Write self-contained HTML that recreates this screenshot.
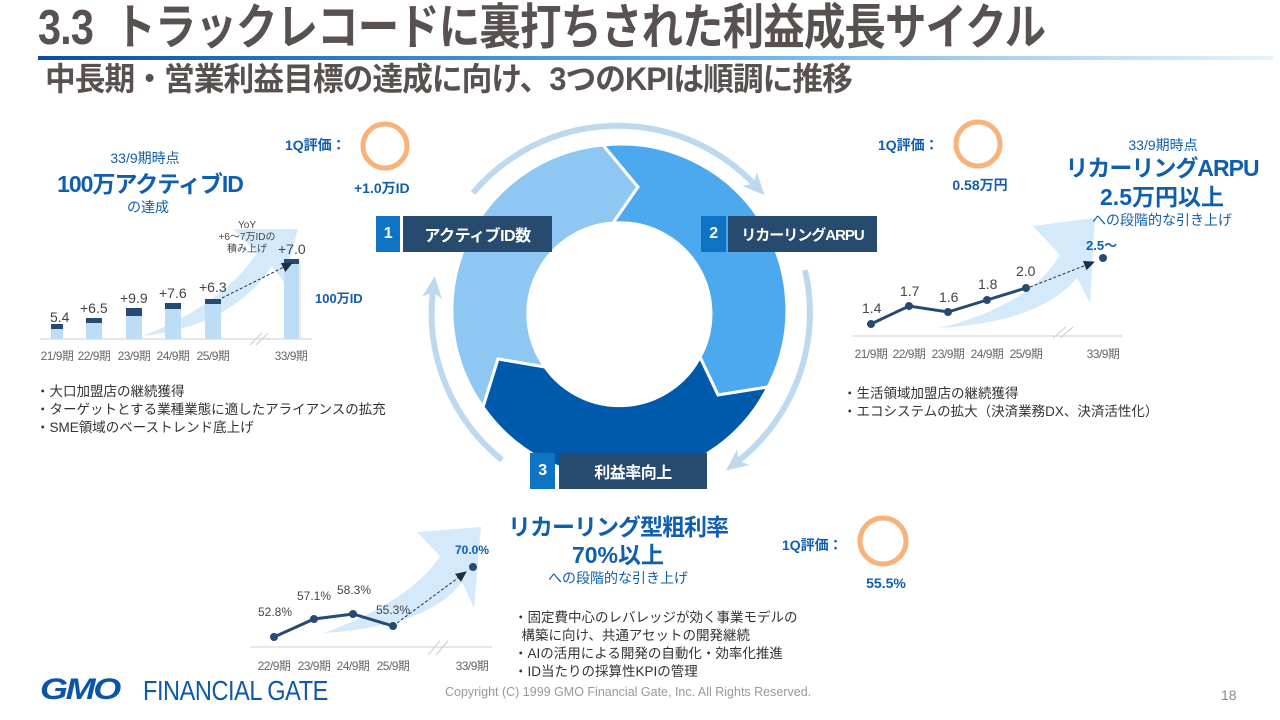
<!DOCTYPE html>
<html><head><meta charset="utf-8">
<style>
*{margin:0;padding:0;box-sizing:border-box}
body{width:1280px;height:720px;background:#fff;position:relative;overflow:hidden;font-family:"Liberation Sans","Noto Sans CJK JP",sans-serif;}
.a{position:absolute;white-space:nowrap;line-height:1}
.c{transform:translateX(-50%)}
.blue{color:#0F5EAF}
.b{font-weight:bold}
.yr{font-size:12px;color:#666;letter-spacing:-0.5px}
.num{font-size:14px;color:#444}
.bul{font-size:13.5px;color:#333;line-height:18px}
.box{position:absolute;height:36px;color:#fff;font-weight:bold;font-size:16px;display:flex;align-items:center;justify-content:center;white-space:nowrap;letter-spacing:-0.5px}
</style></head><body>

<svg width="1280" height="720" style="position:absolute;left:0;top:0">
<defs>
<linearGradient id="g" x1="0" x2="1"><stop offset="0" stop-color="#0A4EA0"/><stop offset="0.5" stop-color="#5AA8E8"/><stop offset="1" stop-color="#E6F2FC"/></linearGradient>
<marker id="m" markerUnits="userSpaceOnUse" markerWidth="24" markerHeight="24" refX="8" refY="12" orient="auto"><path d="M0,2 L22,12 L0,22 L6,12 Z" fill="#BDD9F0"/></marker>
<marker id="d" markerUnits="userSpaceOnUse" markerWidth="12" markerHeight="12" refX="10" refY="6" orient="auto"><path d="M0,1 L11,6 L0,11 Z" fill="#1E2E44"/></marker>
</defs>
<rect x="38" y="56" width="1235" height="4" fill="url(#g)"/>

<g fill="none" stroke="#BDD9F0" stroke-width="6">
<path d="M473,193 A189 189 0 0 1 755,185" marker-end="url(#m)"/>
<path d="M805,270 A189 189 0 0 1 737,462" marker-end="url(#m)"/>
<path d="M502,460 A189 189 0 0 1 433,290" marker-end="url(#m)"/>
</g>
<g stroke="#fff" stroke-width="3" stroke-linejoin="miter">
<path d="M483,407 A166 166 0 0 1 603,145 L638,187 L613,223 A91 91 0 0 0 545,367 L498,359 Z" fill="#8FC7F3"/>
<path d="M603,145 A166 166 0 0 1 768,387 L718,395 L700,357 A91 91 0 0 0 613,223 L638,187 Z" fill="#4DA9EE"/>
<path d="M768,387 A166 166 0 0 1 483,407 L498,359 L545,367 A91 91 0 0 0 700,357 L718,395 Z" fill="#005AAB"/>
</g>

<g fill="none" stroke="#F8B27A" stroke-width="5">
<circle cx="385" cy="146" r="22"/>
<circle cx="978" cy="144" r="22"/>
<circle cx="883" cy="541" r="23"/>
</g>

<g fill="#D4E9F9">
<path d="M143,336 Q222,305 257,253 L233,229 L298,229 L284,282 L272,266 Q232,326 143,336 Z"/>
<path d="M940,328 Q1030,305 1060,255 L1033,226 L1095,218 L1090,303 L1077,278 Q1040,322 940,328 Z"/>
<path d="M324,633 Q412,600 440,556 L417,532 L481,527 L474,608 L462,582 Q430,626 324,633 Z"/>
</g>

<line x1="40" y1="339" x2="312" y2="339" stroke="#ddd" stroke-width="1.5"/>
<line x1="300" y1="260" x2="300" y2="339" stroke="#ddd" stroke-width="1"/>
<line x1="250" y1="345" x2="262" y2="333" stroke="#ccc"/><line x1="256" y1="345" x2="268" y2="333" stroke="#ccc"/>
<g fill="#BDDDF7">
<rect x="51" y="324" width="12" height="15"/><rect x="86" y="318" width="16" height="21"/><rect x="126" y="308" width="16" height="31"/><rect x="165" y="303" width="16" height="36"/><rect x="205" y="299" width="16" height="40"/><rect x="284" y="259" width="15" height="80"/>
</g>
<g fill="#264B73">
<rect x="51" y="324" width="12" height="5"/><rect x="86" y="318" width="16" height="5"/><rect x="126" y="308" width="16" height="8"/><rect x="165" y="303" width="16" height="6"/><rect x="205" y="299" width="16" height="5"/><rect x="284" y="259" width="15" height="5"/>
</g>
<line x1="222" y1="298" x2="292" y2="263" stroke="#1E2E44" stroke-dasharray="3,2" marker-end="url(#d)"/>

<line x1="852" y1="336" x2="1122" y2="336" stroke="#e0e0e0" stroke-width="1.5"/>
<line x1="1053" y1="338" x2="1066" y2="327" stroke="#ccc"/><line x1="1060" y1="338" x2="1073" y2="327" stroke="#ccc"/>
<polyline points="871,324 909,306 948,312 987,300 1026,288" fill="none" stroke="#264B73" stroke-width="3"/>
<g fill="#264B73"><circle cx="871" cy="324" r="4"/><circle cx="909" cy="306" r="4"/><circle cx="948" cy="312" r="4"/><circle cx="987" cy="300" r="4"/><circle cx="1026" cy="288" r="4"/><circle cx="1103" cy="258" r="4"/></g>
<line x1="1030" y1="287" x2="1094" y2="262" stroke="#1E2E44" stroke-dasharray="3,2" marker-end="url(#d)"/>

<line x1="250" y1="647" x2="492" y2="647" stroke="#e0e0e0" stroke-width="1.5"/>
<line x1="428" y1="655" x2="440" y2="641" stroke="#ccc"/><line x1="436" y1="655" x2="448" y2="641" stroke="#ccc"/>
<polyline points="274,637 314,619 353,614 393,626" fill="none" stroke="#264B73" stroke-width="3"/>
<g fill="#264B73"><circle cx="274" cy="637" r="4"/><circle cx="314" cy="619" r="4"/><circle cx="353" cy="614" r="4"/><circle cx="393" cy="626" r="4"/><circle cx="473" cy="567" r="4"/></g>
<line x1="397" y1="623" x2="466" y2="572" stroke="#1E2E44" stroke-dasharray="3,2" marker-end="url(#d)"/>
</svg>

<div class="a b" style="left:38px;top:4px;font-size:49px;color:#595050;transform:scaleX(0.845);transform-origin:left top;letter-spacing:-1px">3.3&nbsp; トラックレコードに裏打ちされた利益成長サイクル</div>
<div class="a b" style="left:45px;top:63px;font-size:32px;color:#595050;transform:scaleX(0.96);transform-origin:left top;letter-spacing:-1px">中長期・営業利益目標の達成に向け、3つのKPIは順調に推移</div>

<div class="a c blue" style="left:145px;top:151px;font-size:14px">33/9期時点</div>
<div class="a c blue b" style="left:150px;top:173px;font-size:23px;letter-spacing:-1px">100万アクティブID</div>
<div class="a c blue" style="left:148px;top:200px;font-size:14px">の達成</div>
<div class="a blue b" style="left:285px;top:138px;font-size:14px">1Q評価：</div>
<div class="a blue b" style="left:354px;top:181px;font-size:14px">+1.0万ID</div>
<div class="a c" style="left:247px;top:220px;font-size:10px;color:#444;text-align:center;line-height:12px">YoY<br>+6～7万IDの<br>積み上げ</div>
<div class="a num" style="left:50px;top:310px">5.4</div>
<div class="a num" style="left:80px;top:301px">+6.5</div>
<div class="a num" style="left:120px;top:291px">+9.9</div>
<div class="a num" style="left:159px;top:286px">+7.6</div>
<div class="a num" style="left:199px;top:280px">+6.3</div>
<div class="a num" style="left:278px;top:242px">+7.0</div>
<div class="a blue b" style="left:315px;top:292px;font-size:13px">100万ID</div>
<div class="a c yr" style="left:57px;top:350px">21/9期</div>
<div class="a c yr" style="left:94px;top:350px">22/9期</div>
<div class="a c yr" style="left:134px;top:350px">23/9期</div>
<div class="a c yr" style="left:173px;top:350px">24/9期</div>
<div class="a c yr" style="left:213px;top:350px">25/9期</div>
<div class="a c yr" style="left:291px;top:350px">33/9期</div>
<div class="a bul" style="left:36px;top:383px">・大口加盟店の継続獲得<br>・ターゲットとする業種業態に適したアライアンスの拡充<br>・SME領域のベーストレンド底上げ</div>

<div class="box" style="left:376px;top:216px;width:24px;background:#0F73C4">1</div>
<div class="box" style="left:403px;top:216px;width:149px;background:#274B6E">アクティブID数</div>
<div class="box" style="left:701px;top:216px;width:25px;background:#0F73C4">2</div>
<div class="box" style="left:728px;top:216px;width:149px;background:#274B6E;font-size:15px;letter-spacing:-1px">リカーリングARPU</div>
<div class="box" style="left:530px;top:453px;width:25px;background:#0F73C4">3</div>
<div class="box" style="left:559px;top:453px;width:148px;background:#274B6E">利益率向上</div>

<div class="a blue b" style="left:878px;top:138px;font-size:14px">1Q評価：</div>
<div class="a c blue b" style="left:980px;top:178px;font-size:14px">0.58万円</div>
<div class="a c blue" style="left:1163px;top:138px;font-size:14px">33/9期時点</div>
<div class="a c blue b" style="left:1162px;top:157px;font-size:23px;letter-spacing:-1px">リカーリングARPU</div>
<div class="a c blue b" style="left:1162px;top:186px;font-size:23px">2.5万円以上</div>
<div class="a c blue" style="left:1162px;top:213px;font-size:14px">への段階的な引き上げ</div>
<div class="a num" style="left:862px;top:301px">1.4</div>
<div class="a num" style="left:900px;top:284px">1.7</div>
<div class="a num" style="left:939px;top:290px">1.6</div>
<div class="a num" style="left:978px;top:277px">1.8</div>
<div class="a num" style="left:1016px;top:264px">2.0</div>
<div class="a blue b" style="left:1086px;top:239px;font-size:13px">2.5～</div>
<div class="a c yr" style="left:871px;top:348px">21/9期</div>
<div class="a c yr" style="left:909px;top:348px">22/9期</div>
<div class="a c yr" style="left:948px;top:348px">23/9期</div>
<div class="a c yr" style="left:987px;top:348px">24/9期</div>
<div class="a c yr" style="left:1026px;top:348px">25/9期</div>
<div class="a c yr" style="left:1103px;top:348px">33/9期</div>
<div class="a bul" style="left:843px;top:385px">・生活領域加盟店の継続獲得<br>・エコシステムの拡大（決済業務DX、決済活性化）</div>

<div class="a c blue b" style="left:618px;top:516px;font-size:23px;letter-spacing:-1px">リカーリング型粗利率</div>
<div class="a c blue b" style="left:618px;top:544px;font-size:23px">70%以上</div>
<div class="a c blue" style="left:618px;top:571px;font-size:14px">への段階的な引き上げ</div>
<div class="a blue b" style="left:782px;top:538px;font-size:14px">1Q評価：</div>
<div class="a c blue b" style="left:886px;top:576px;font-size:14px">55.5%</div>
<div class="a" style="left:258px;top:606px;font-size:12px;color:#444">52.8%</div>
<div class="a" style="left:297px;top:590px;font-size:12px;color:#444">57.1%</div>
<div class="a" style="left:337px;top:584px;font-size:12px;color:#444">58.3%</div>
<div class="a" style="left:376px;top:604px;font-size:12px;color:#444">55.3%</div>
<div class="a blue b" style="left:455px;top:544px;font-size:12px">70.0%</div>
<div class="a c yr" style="left:274px;top:660px">22/9期</div>
<div class="a c yr" style="left:314px;top:660px">23/9期</div>
<div class="a c yr" style="left:353px;top:660px">24/9期</div>
<div class="a c yr" style="left:393px;top:660px">25/9期</div>
<div class="a c yr" style="left:472px;top:660px">33/9期</div>
<div class="a bul" style="left:514px;top:609px">・固定費中心のレバレッジが効く事業モデルの<br>&nbsp;&nbsp;構築に向け、共通アセットの開発継続<br>・AIの活用による開発の自動化・効率化推進<br>・ID当たりの採算性KPIの管理</div>

<div class="a b" style="left:40px;top:675px;font-size:30px;color:#0A55A5;font-style:italic;letter-spacing:-2px;transform:scaleX(1.2);transform-origin:left top">GMO</div>
<div class="a" style="left:143px;top:677px;font-size:28px;color:#0E5AA7;transform:scaleX(0.84);transform-origin:left top;letter-spacing:-0.5px">FINANCIAL GATE</div>
<div class="a" style="left:445px;top:686px;font-size:12.5px;color:#999">Copyright (C) 1999 GMO Financial Gate, Inc. All Rights Reserved.</div>
<div class="a" style="left:1221px;top:688px;font-size:14px;color:#888">18</div>
</body></html>
